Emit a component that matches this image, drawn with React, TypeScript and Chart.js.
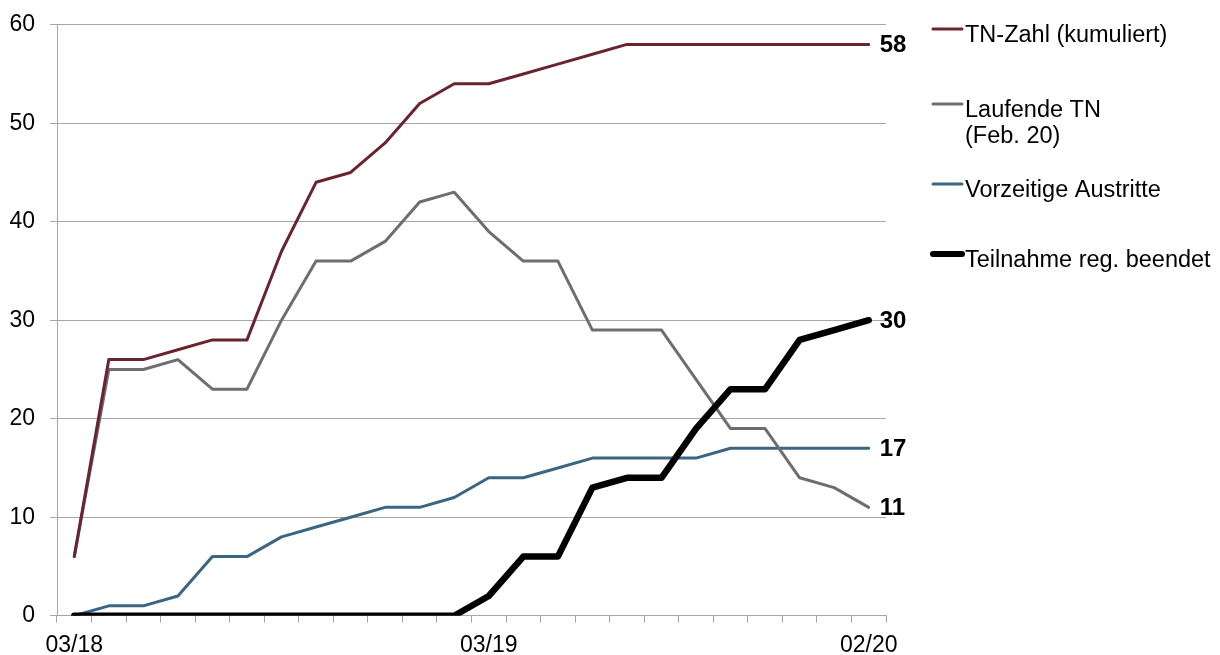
import { useEffect, useRef } from 'react';
import { Chart, registerables } from 'chart.js';

Chart.register(...registerables);

const months = [
  '03/18', '04/18', '05/18', '06/18', '07/18', '08/18', '09/18', '10/18', '11/18', '12/18',
  '01/19', '02/19', '03/19', '04/19', '05/19', '06/19', '07/19', '08/19', '09/19', '10/19',
  '11/19', '12/19', '01/20', '02/20',
];
const shownTicks = ['03/18', '03/19', '02/20'];
const yTicksMax = 60;
const yTickStep = 10;

const tnZahl = [6, 26, 26, 27, 28, 28, 37, 44, 45, 48, 52, 54, 54, 55, 56, 57, 58, 58, 58, 58, 58, 58, 58, 58];
const laufende = [6, 25, 25, 26, 23, 23, 30, 36, 36, 38, 42, 43, 39, 36, 36, 29, 29, 29, 24, 19, 19, 14, 13, 11];
const austritte = [0, 1, 1, 2, 6, 6, 8, 9, 10, 11, 11, 12, 14, 14, 15, 16, 16, 16, 16, 17, 17, 17, 17, 17];
const beendet = [0, 0, 0, 0, 0, 0, 0, 0, 0, 0, 0, 0, 2, 6, 6, 13, 14, 14, 19, 23, 23, 28, 29, 30];

const seriesLabels = ['TN-Zahl (kumuliert)', 'Laufende TN (Feb. 20)', 'Vorzeitige Austritte', 'Teilnahme reg. beendet'];
const legendLines = [['TN-Zahl (kumuliert)'], ['Laufende TN', '(Feb. 20)'], ['Vorzeitige Austritte'], ['Teilnahme reg. beendet']];

const FONT = '"Liberation Sans", Arial, Helvetica, sans-serif';
const GRID = '#a6a6a6';

const sideLegendPlugin = {
  id: 'sideLegend',
  afterDatasetsDraw(chart: any) {
    const ctx = chart.ctx;
    ctx.save();
    // end value labels
    ctx.font = `bold 24px ${FONT}`;
    ctx.fillStyle = '#000';
    ctx.textAlign = 'left';
    ctx.textBaseline = 'middle';
    chart.data.datasets.forEach((ds: any, i: number) => {
      const meta = chart.getDatasetMeta(i);
      const last = meta.data[meta.data.length - 1];
      const v = ds.data[ds.data.length - 1];
      ctx.fillText(String(v), last.x + 11, last.y + 1);
    });
    // legend
    const baselines = [42, 117, 197, 267];
    ctx.font = `23.5px ${FONT}`;
    ctx.textBaseline = 'alphabetic';
    chart.data.datasets.forEach((ds: any, i: number) => {
      const by = baselines[i];
      ctx.strokeStyle = ds.borderColor;
      ctx.lineWidth = i === 3 ? 6 : 3;
      ctx.lineCap = 'round';
      ctx.beginPath();
      ctx.moveTo(933, by - 13);
      ctx.lineTo(962, by - 13);
      ctx.stroke();
      ctx.fillStyle = '#000';
      legendLines[i].forEach((t, j) => {
        ctx.fillText(t, 965, by + j * 26);
      });
    });
    ctx.restore();
  },
};

export default function App() {
  const ref = useRef<HTMLCanvasElement | null>(null);

  useEffect(() => {
    if (!ref.current) return;
    const mk = (label: string, data: number[], color: string, width: number, order: number) => ({
      label,
      data,
      borderColor: color,
      backgroundColor: color,
      borderWidth: width,
      pointRadius: 0,
      pointHoverRadius: 0,
      tension: 0,
      fill: false,
      borderCapStyle: 'round' as const,
      borderJoinStyle: 'round' as const,
      order,
    });
    const chart = new Chart(ref.current, {
      type: 'line',
      data: {
        labels: months,
        datasets: [
          mk(seriesLabels[0], tnZahl, '#6a2430', 3, 2),
          mk(seriesLabels[1], laufende, '#6e6e6e', 3, 3),
          mk(seriesLabels[2], austritte, '#3b6580', 3, 4),
          mk(seriesLabels[3], beendet, '#000000', 6.5, 1),
        ],
      },
      options: {
        responsive: false,
        animation: false,
        layout: { padding: { left: 0, right: 334, top: 24.7, bottom: 0 } },
        plugins: {
          legend: { display: false },
          tooltip: { enabled: false },
        },
        scales: {
          x: {
            offset: true,
            grid: {
              offset: true,
              drawOnChartArea: false,
              drawTicks: true,
              tickLength: 7,
              color: GRID,
            },
            border: { color: GRID },
            ticks: {
              autoSkip: false,
              maxRotation: 0,
              minRotation: 0,
              padding: 9,
              color: '#000',
              font: { family: FONT, size: 23 },
              callback: (_v: any, i: number) => (shownTicks.includes(months[i]) ? months[i] : ''),
            },
            afterFit: (s: any) => {
              s.height = 39.3;
            },
          },
          y: {
            min: 0,
            max: yTicksMax,
            grid: { color: GRID, tickLength: 7 },
            border: { color: GRID },
            ticks: {
              stepSize: yTickStep,
              padding: 15,
              color: '#000',
              font: { family: FONT, size: 23 },
            },
            afterFit: (s: any) => {
              s.width = 57;
              s.paddingTop = 0;
              s.paddingBottom = 0;
            },
          },
        },
      },
      plugins: [sideLegendPlugin],
    });
    return () => chart.destroy();
  }, []);

  return (
    <div style={{ position: 'absolute', left: 0, top: 0, width: 1220, height: 655, background: '#fff' }}>
      <canvas ref={ref} width={1220} height={655} style={{ display: 'block' }} />
    </div>
  );
}
